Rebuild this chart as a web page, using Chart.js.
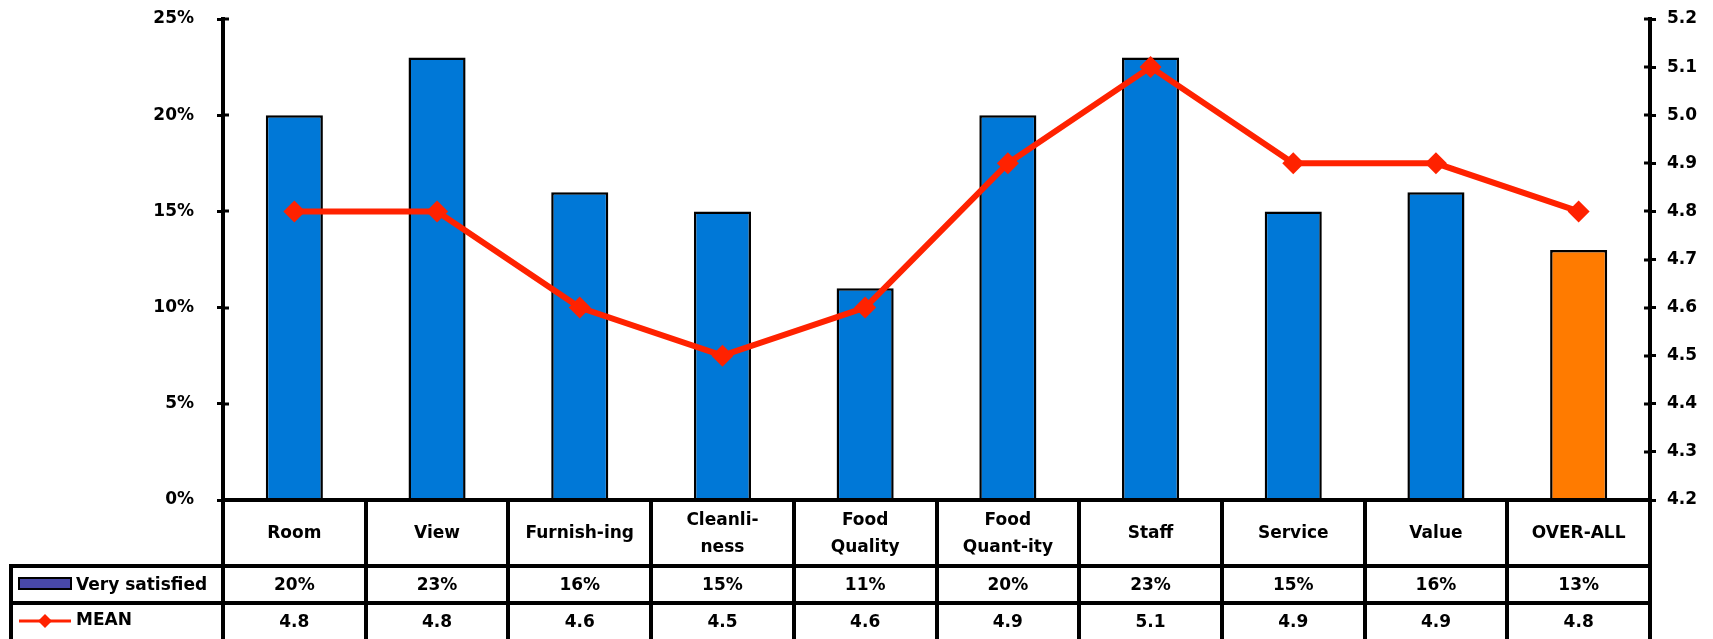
<!DOCTYPE html>
<html>
<head>
<meta charset="utf-8">
<title>Satisfaction survey</title>
<script src="https://cdn.jsdelivr.net/npm/chart.js@4/dist/chart.umd.min.js"></script>
<style>
  body { margin: 0; background: #fff; }
  canvas { display: block; }
</style>
</head>
<body>
<canvas id="myChart" width="1713" height="639"></canvas>
<script>
// categories shown in the table header row (arrays = two-line cells)
const categories = ['Room', 'View', 'Furnish-ing', ['Cleanli-', 'ness'], ['Food', 'Quality'],
  ['Food', 'Quant-ity'], 'Staff', 'Service', 'Value', 'OVER-ALL']
const verySatisfied = [20, 23, 16, 15, 11, 20, 23, 15, 16, 13]
const meanScore = [4.8, 4.8, 4.6, 4.5, 4.6, 4.9, 5.1, 4.9, 4.9, 4.8]
const pctTicks = [0, 25, 5]      // min, max, step
const meanTicks = [4.2, 5.2, 0.1]

const BLUE = '#0078d7'
const ORANGE = '#ff7b00'
const RED = '#ff2200'
const FONT = 'bold 17px "DejaVu Sans"'

Chart.defaults.font.family = '"DejaVu Sans"'
Chart.defaults.font.size = 17
Chart.defaults.font.weight = 'bold'
Chart.defaults.color = '#000'

// fixed axis width; drop the label padding so the plot top stays put
function fixAxis(width) {
  return function (s) {
    s.width = width
    s.paddingTop = 0
    s.paddingBottom = 0
  }
}

// data table under the plot + crossing tick marks
const tablePlugin = {
  id: 'dataTable',
  afterDraw(chart) {
    const ctx = chart.ctx
    const area = chart.chartArea
    const x = chart.scales.x
    const colW = (area.right - area.left) / categories.length
    const rowTop = area.bottom
    const row1 = rowTop + 66
    const row2 = row1 + 37
    const bottom = chart.height + 4
    const tableLeft = 11

    ctx.save()
    // inner half of the axis ticks
    ctx.strokeStyle = '#000'
    ctx.lineWidth = 3
    const yl = chart.scales.y, yr = chart.scales.y1
    yl.ticks.forEach(function (t) {
      const py = Math.round(yl.getPixelForValue(t.value))
      ctx.beginPath(); ctx.moveTo(area.left, py); ctx.lineTo(area.left + 6, py); ctx.stroke()
    })
    yr.ticks.forEach(function (t) {
      const py = Math.round(yr.getPixelForValue(t.value))
      ctx.beginPath(); ctx.moveTo(area.right - 6, py); ctx.lineTo(area.right, py); ctx.stroke()
    })

    // grid lines of the table
    ctx.lineWidth = 4
    ctx.beginPath()
    ctx.moveTo(area.left - 2, rowTop); ctx.lineTo(area.right + 2, rowTop)
    ctx.moveTo(tableLeft - 2, row1); ctx.lineTo(area.right + 2, row1)
    ctx.moveTo(tableLeft - 2, row2); ctx.lineTo(area.right + 2, row2)
    ctx.moveTo(tableLeft, row1); ctx.lineTo(tableLeft, bottom)
    for (let i = 0; i <= categories.length; i++) {
      const px = Math.round(area.left + i * colW)
      ctx.moveTo(px, rowTop); ctx.lineTo(px, bottom)
    }
    ctx.stroke()

    // text cells
    ctx.font = FONT
    ctx.fillStyle = '#000'
    ctx.textAlign = 'center'
    ctx.textBaseline = 'middle'
    categories.forEach(function (c, i) {
      const cx = x.getPixelForValue(i)
      const lines = Array.isArray(c) ? c : [c]
      const mid = (rowTop + row1) / 2 + 1
      lines.forEach(function (l, k) {
        ctx.fillText(l, cx, mid + (k - (lines.length - 1) / 2) * 27)
      })
      ctx.fillText(verySatisfied[i] + '%', cx, (row1 + row2) / 2 + 1)
      ctx.fillText(meanScore[i].toFixed(1), cx, (row2 + bottom) / 2)
    })

    // legend keys in the first column
    const ds = chart.data.datasets
    ctx.textAlign = 'left'
    ctx.fillStyle = '#4848a8'
    ctx.fillRect(19, 578, 52, 11)
    ctx.lineWidth = 2
    ctx.strokeRect(19, 578, 52, 11)
    ctx.fillStyle = '#000'
    ctx.fillText(ds[0].label, 76, (row1 + row2) / 2 + 1)

    const ly = 621
    ctx.strokeStyle = ds[1].borderColor
    ctx.lineWidth = 3
    ctx.beginPath(); ctx.moveTo(19, ly); ctx.lineTo(71, ly); ctx.stroke()
    ctx.fillStyle = ds[1].borderColor
    ctx.beginPath()
    ctx.moveTo(45, ly - 7); ctx.lineTo(52, ly); ctx.lineTo(45, ly + 7); ctx.lineTo(38, ly)
    ctx.closePath(); ctx.fill()
    ctx.fillStyle = '#000'
    ctx.fillText(ds[1].label, 76, ly)
    ctx.restore()
  }
}

const ctx = document.getElementById('myChart')

new Chart(ctx, {
  data: {
    labels: categories,
    datasets: [
      {
        type: 'bar',
        label: 'Very satisfied',
        data: verySatisfied,
        yAxisID: 'y',
        backgroundColor: verySatisfied.map(function (v, i) { return i === verySatisfied.length - 1 ? ORANGE : BLUE }),
        borderColor: '#000',
        borderWidth: 2.5,
        barPercentage: 0.4,
        categoryPercentage: 1,
        order: 2
      },
      {
        type: 'line',
        label: 'MEAN',
        data: meanScore,
        yAxisID: 'y1',
        borderColor: RED,
        backgroundColor: RED,
        borderWidth: 6,
        pointStyle: 'rectRot',
        pointRadius: 11,
        pointBorderWidth: 0,
        tension: 0,
        order: 1
      }
    ]
  },
  options: {
    responsive: false,
    animation: false,
    layout: { autoPadding: false, padding: { top: 19, bottom: 139, left: 0, right: 0 } },
    plugins: {
      legend: { display: false },
      tooltip: { enabled: false }
    },
    scales: {
      x: { display: false },
      y: {
        position: 'left',
        min: pctTicks[0],
        max: pctTicks[1],
        ticks: {
          stepSize: pctTicks[2],
          padding: 23,
          callback: function (v) { return v + '%' }
        },
        grid: { drawOnChartArea: false, color: '#000', lineWidth: 3, tickLength: 6 },
        border: { color: '#000', width: 4 },
        afterFit: fixAxis(223)
      },
      y1: {
        position: 'right',
        min: meanTicks[0],
        max: meanTicks[1],
        ticks: {
          stepSize: meanTicks[2],
          padding: 11,
          callback: function (v) { return Number(v).toFixed(1) }
        },
        grid: { drawOnChartArea: false, color: '#000', lineWidth: 3, tickLength: 6 },
        border: { color: '#000', width: 4 },
        afterFit: fixAxis(63)
      }
    }
  },
  plugins: [tablePlugin]
})
</script>
</body>
</html>
